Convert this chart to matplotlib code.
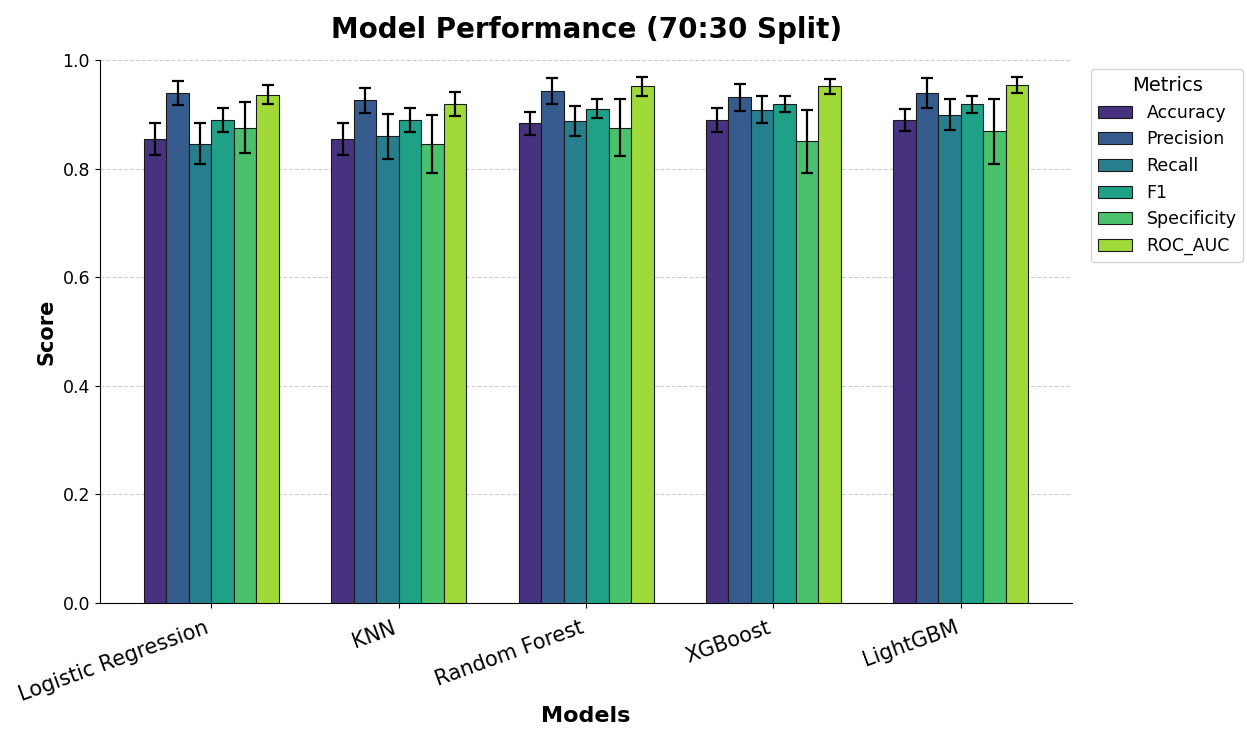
import numpy as np
import matplotlib
matplotlib.use("Agg")
import matplotlib.pyplot as plt
import seaborn as sns

models = ["Logistic Regression", "KNN", "Random Forest", "XGBoost", "LightGBM"]
metrics = ["Accuracy", "Precision", "Recall", "F1", "Specificity", "ROC_AUC"]

# mean scores per model for each metric
accuracy = [0.855, 0.855, 0.884, 0.890, 0.890]
precision = [0.940, 0.926, 0.943, 0.932, 0.940]
recall = [0.846, 0.860, 0.888, 0.909, 0.900]
f1 = [0.890, 0.890, 0.911, 0.919, 0.919]
specificity = [0.876, 0.846, 0.876, 0.851, 0.869]
roc_auc = [0.937, 0.919, 0.952, 0.952, 0.954]

# standard deviations
accuracy_sd = [0.029, 0.029, 0.021, 0.022, 0.021]
precision_sd = [0.022, 0.023, 0.024, 0.025, 0.028]
recall_sd = [0.038, 0.042, 0.028, 0.025, 0.029]
f1_sd = [0.022, 0.022, 0.018, 0.015, 0.016]
specificity_sd = [0.047, 0.054, 0.052, 0.058, 0.060]
roc_auc_sd = [0.018, 0.022, 0.017, 0.014, 0.015]

means = [accuracy, precision, recall, f1, specificity, roc_auc]
sds = [accuracy_sd, precision_sd, recall_sd, f1_sd, specificity_sd, roc_auc_sd]

colors = sns.color_palette("viridis", len(metrics))

fig = plt.figure(figsize=(12.47, 7.36), dpi=100)
ax = fig.add_axes([0.080, 0.181, 0.780, 0.737])

x = np.arange(len(models))
width = 0.12
for i, name in enumerate(metrics):
    offset = (i - (len(metrics) - 1) / 2) * width
    ax.bar(x + offset, means[i], width, yerr=sds[i], label=name,
           color=colors[i], edgecolor="#1a1a1a", linewidth=0.8,
           capsize=4.5, error_kw={"elinewidth": 1.6, "capthick": 1.6, "ecolor": "black"},
           zorder=3)

ax.set_ylim(0, 1.0)
ax.set_xticks(x)
ax.set_xticklabels(models, rotation=20, ha="right", fontsize=15)
ax.tick_params(axis="x", pad=7)
ax.tick_params(axis="y", labelsize=12.5)
ax.set_ylabel("Score", fontsize=15, fontweight="bold")
ax.set_xlabel("Models", fontsize=16, fontweight="bold", labelpad=1)
ax.set_title("Model Performance (70:30 Split)", fontsize=20, fontweight="bold", pad=16)
ax.grid(axis="y", linestyle="--", alpha=0.6, zorder=0)
ax.spines["top"].set_visible(False)
ax.spines["right"].set_visible(False)

ax.legend(title="Metrics", bbox_to_anchor=(1.01, 1.0), loc="upper left",
          fontsize=12.5, title_fontsize=14)

fig.savefig("out.png", dpi=100)
